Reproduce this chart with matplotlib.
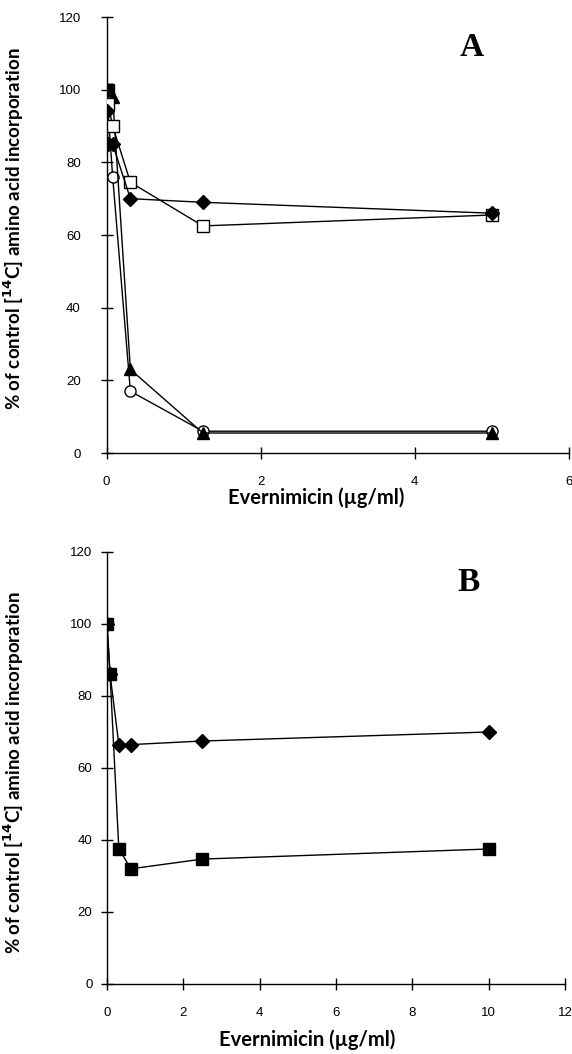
import numpy as np
import matplotlib.pyplot as plt

# Panel A
conc_a = [0, 0.02, 0.08, 0.31, 1.25, 5]
filled_sq_a_x = [0, 0.02]
filled_sq_a = [100, 100]
open_sq_a = [100, 96, 90, 74.5, 62.5, 65.5]
diamond_a = [94, 85, 85, 70, 69, 66]
tri_a_x = [0, 0.08, 0.31, 1.25, 5]
tri_a = [100, 98, 23, 5.5, 5.5]
circ_a_x = [0, 0.08, 0.31, 1.25, 5]
circ_a = [100, 76, 17, 6, 6]

# Panel B
conc_b = [0, 0.08, 0.31, 0.63, 2.5, 10]
diamond_b = [100, 86, 66.5, 66.5, 67.5, 70]
filled_sq_b = [100, 86, 37.5, 32, 34.7, 37.5]

ylabel = "% of control [$\\mathbf{^{14}}$C] amino acid incorporation"
xlabel = "Evernimicin (\u00b5g/ml)"

W, H = 572, 1054
fig = plt.figure(figsize=(W / 100, H / 100), dpi=100)

def frac(x0, x1, y_top, y_bot):
    return [x0 / W, 1 - y_bot / H, (x1 - x0) / W, (y_bot - y_top) / H]

ax_a = fig.add_axes(frac(106.5, 569, 17, 453))
ax_b = fig.add_axes(frac(107, 565, 552, 984))

lw = 1.0
ms = 8
ax_a.plot(circ_a_x, circ_a, color="black", lw=lw, marker="o", ms=ms,
          mfc="white", mec="black", zorder=3)
ax_a.plot(tri_a_x, tri_a, color="black", lw=lw, marker="^", ms=ms,
          mfc="black", mec="black", zorder=3)
ax_a.plot(conc_a, open_sq_a, color="black", lw=lw, marker="s", ms=ms,
          mfc="white", mec="black", zorder=3)
ax_a.plot(conc_a, diamond_a, color="black", lw=lw, marker="D", ms=7,
          mfc="black", mec="black", zorder=3)
ax_a.plot(filled_sq_a_x, filled_sq_a, color="black", lw=lw, marker="s", ms=ms,
          mfc="black", mec="black", zorder=4)

ax_b.plot(conc_b, diamond_b, color="black", lw=lw, marker="D", ms=7,
          mfc="black", mec="black", zorder=3)
ax_b.plot(conc_b, filled_sq_b, color="black", lw=lw, marker="s", ms=ms,
          mfc="black", mec="black", zorder=3)

ax_a.set_xlim(0, 6)
ax_a.set_xticks([0, 2, 4, 6])
ax_b.set_xlim(0, 12)
ax_b.set_xticks(np.arange(0, 13, 2))

for ax, ypad in ((ax_a, 14), (ax_b, 6)):
    ax.set_ylim(0, 120)
    ax.set_yticks(np.arange(0, 121, 20))
    for s in ("top", "right"):
        ax.spines[s].set_visible(False)
    for s in ("left", "bottom"):
        ax.spines[s].set_linewidth(1.0)
    ax.tick_params(axis="both", direction="inout", length=9, width=1.0,
                   labelsize=9.5, labelfontfamily="Liberation Sans")
    ax.tick_params(axis="y", pad=ypad)
    ax.tick_params(axis="x", pad=12)
    ax.set_ylabel(ylabel, fontsize=13.5, fontweight="bold", family="Lato")
    ax.set_xlabel(xlabel, fontsize=14.5, fontweight="bold", family="Lato")

ax_a.yaxis.set_label_coords(-0.174, 0.515)
ax_b.yaxis.set_label_coords(-0.177, 0.49)
ax_a.xaxis.set_label_coords(0.453, -0.078)
ax_b.xaxis.set_label_coords(0.437, -0.105)

ax_a.text(0.79, 0.93, "A", transform=ax_a.transAxes, fontsize=24,
          fontweight="bold", family="Liberation Serif", ha="center", va="center")
ax_b.text(0.79, 0.93, "B", transform=ax_b.transAxes, fontsize=24,
          fontweight="bold", family="Liberation Serif", ha="center", va="center")

fig.savefig("out.png", dpi=100)
